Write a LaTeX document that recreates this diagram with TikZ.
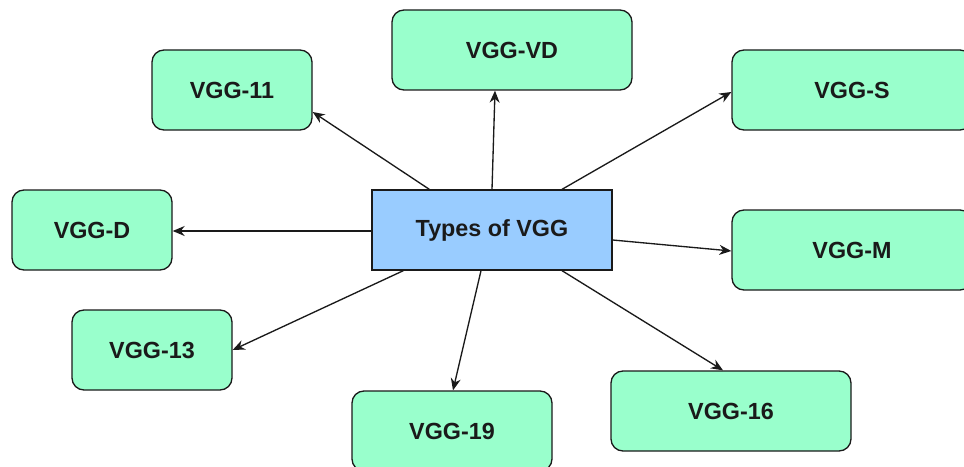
\documentclass[tikz,border=0pt]{standalone}
\usepackage{fontspec}
\setmainfont{Liberation Sans}
\usetikzlibrary{arrows.meta,calc}
\tikzset{>={Stealth[length=9pt,width=7.5pt]}}
\definecolor{leafgreen}{HTML}{99FFCC}
\definecolor{rootblue}{HTML}{99CCFF}
\definecolor{edgegray}{HTML}{1A1A1A}
\tikzset{
  leaf/.style={draw=edgegray, line width=1pt, fill=leafgreen, rounded corners=9pt,
    minimum height=60pt, inner sep=0pt, text=edgegray,
    font=\fontsize{17.5}{20}\selectfont\bfseries},
  root/.style={draw=edgegray, line width=1pt, fill=rootblue, minimum width=180pt,
    minimum height=60pt, inner sep=0pt, text=edgegray,
    font=\fontsize{17.5}{20}\selectfont\bfseries},
  link/.style={->, line width=1pt, draw=edgegray}
}

\begin{document}
\begin{tikzpicture}[x=0.75pt, y=-0.75pt]
  \useasboundingbox (0,0) rectangle (964,467);
  \clip (0,0) rectangle (964,467);
  \node[root] (types) at (492,230) {Types of VGG};

  \node[leaf, minimum width=120pt] (v11) at (232,90)  {VGG-11};
  \node[leaf, minimum width=180pt] (vd)  at (512,50)  {VGG-VD};
  \node[leaf, minimum width=180pt] (vs)  at (852,90)  {VGG-S};
  \node[leaf, minimum width=120pt] (vdd) at (92,230)  {VGG-D};
  \node[leaf, minimum width=180pt] (vm)  at (852,250) {VGG-M};
  \node[leaf, minimum width=120pt] (v13) at (152,350) {VGG-13};
  \node[leaf, minimum width=150pt] (v19) at (452,431) {VGG-19};
  \node[leaf, minimum width=180pt] (v16) at (731,411) {VGG-16};

  \draw[link] ($(types.north west)+(58,0)$) -- ($(v11.east)+(0,22)$);
  \draw[link] (types.north) -- ($(vd.south)+(-17,0)$);
  \draw[link] ($(types.north)+(70,0)$) -- ($(vs.west)+(0,2)$);
  \draw[link] ($(types.west)+(0,1)$) -- ($(vdd.east)+(0,1)$);
  \draw[link] ($(types.east)+(0,10)$) -- ($(vm.west)+(0,1)$);
  \draw[link] ($(types.south west)+(32,0)$) -- (v13.east);
  \draw[link] ($(types.south)+(-11,0)$) -- ($(v19.north)+(1,0)$);
  \draw[link] ($(types.south)+(70,0)$) -- ($(v16.north)+(-8,0)$);
\end{tikzpicture}
\end{document}
